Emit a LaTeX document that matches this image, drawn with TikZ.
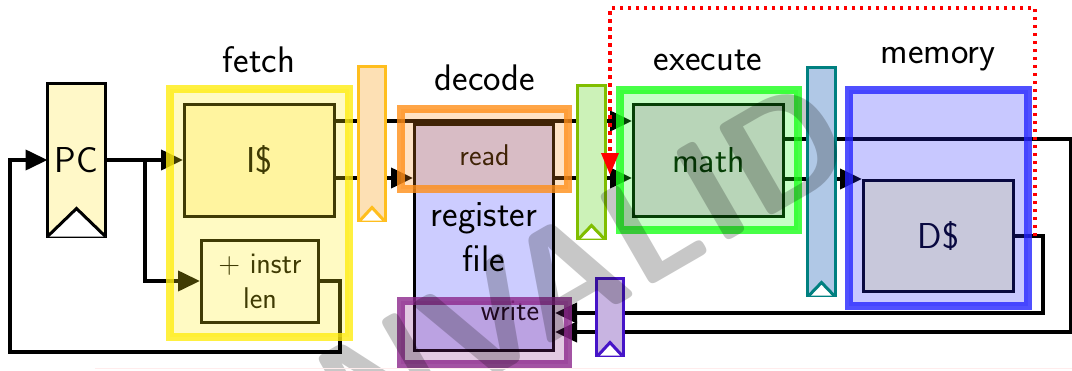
\documentclass[tikz,border=0pt]{standalone}
\usepackage{fontspec}
\usetikzlibrary{arrows.meta, calc}
\renewcommand{\familydefault}{\sfdefault}

\definecolor{pcfill}{RGB}{255,248,200}
\definecolor{icfill}{RGB}{255,248,208}
\definecolor{mathfill}{RGB}{237,200,237}
\definecolor{dcfill}{RGB}{255,255,208}
\definecolor{regfill}{RGB}{204,204,255}
\definecolor{stageyellow}{RGB}{255,236,16}
\definecolor{stageorange}{RGB}{255,142,24}
\definecolor{stagepurple}{RGB}{140,40,140}
\definecolor{stagegreen}{RGB}{26,255,26}
\definecolor{stageblue}{RGB}{36,36,255}
\definecolor{fdfill}{RGB}{253,224,180}
\definecolor{fddraw}{RGB}{255,190,30}
\definecolor{dxfill}{RGB}{204,242,184}
\definecolor{dxdraw}{RGB}{128,190,0}
\definecolor{xmfill}{RGB}{176,200,230}
\definecolor{xmdraw}{RGB}{0,128,128}
\definecolor{mwfill}{RGB}{200,180,225}
\definecolor{mwdraw}{RGB}{70,20,200}

\newcommand{\stagesize}{\fontsize{37}{40}\selectfont}
\newcommand{\boxsize}{\fontsize{36}{40}\selectfont}
\newcommand{\regsize}{\fontsize{37}{45}\selectfont}
\newcommand{\portsize}{\fontsize{30}{35}\selectfont}

\begin{document}
\begin{tikzpicture}[x=1pt, y=-1pt,
    blk/.style={draw, line width=3pt, inner sep=0pt},
    preg/.style={draw, line width=3pt, inner sep=0pt, outer sep=0pt},
    stage/.style={line width=8pt, inner sep=0pt, fill opacity=0.25, draw opacity=0.8},
    wire/.style={line width=4pt},
    arr/.style={wire, -{Triangle[length=22pt, width=20pt]}},
    fwd/.style={line width=3.5pt, red, dash pattern=on 3.5pt off 4.5pt, -{Triangle[length=22pt, width=17pt]}},
    lbl/.style={anchor=base, font=\stagesize},
]
\useasboundingbox (0,0) rectangle (1072,370);

% units
\node[preg, fill=pcfill, minimum width=58pt, minimum height=153pt, font=\boxsize] (pc) at (76.5,160) {PC};
\node[blk, fill=icfill, minimum width=150pt, minimum height=112pt, font=\boxsize] (icache) at (259.5,160) {I\$};
\node[blk, fill=white, minimum width=117pt, minimum height=82pt, font=\portsize, align=center] (instr) at (260,281) {+ instr\\len};
\node[blk, fill=regfill, minimum width=139pt, minimum height=226pt] (regfile) at (484,237.5) {};
\node[font=\regsize, align=center] (regtext) at (484,237) {register\\file};
\node[lbl, font=\portsize] (readtext) at (484.5,165) {read};
\node[lbl, font=\portsize] (writetext) at (510,320) {write};
\node[blk, fill=mathfill, minimum width=150pt, minimum height=112pt, font=\boxsize] (math) at (708.5,160.5) {math};
\node[blk, fill=dcfill, minimum width=150pt, minimum height=111pt, font=\boxsize] (dcache) at (938.5,236) {D\$};

% bends and bus levels
\coordinate (split) at (145,160);
\coordinate (pcloop) at (340,352);
\coordinate (loopleft) at (10,352);
\coordinate (busA) at (0,121);
\coordinate (busB) at (0,178);
\coordinate (busC) at (0,139);
\coordinate (aluloop) at (1071,332);
\coordinate (memloop) at (1043,313);

% wires
\draw[arr] (pc.east) -- (icache.west);
\draw[arr] (split) |- (instr.west);
\draw[arr] (instr.east) -| (pcloop) -- (loopleft) |- (pc.west);
\draw[wire] (icache.east |- busA) -- (372,121);
\draw[wire] (icache.east |- busB) -- (372,178);
\draw[arr] (372,121) -- (math.west |- busA);
\draw[arr] (372,178) -- (regfile.west |- busB);
\draw[arr] (regfile.east |- busB) -- (math.west |- busB);
\draw[arr] (math.east |- busC) -| (aluloop) -- (regfile.east |- aluloop);
\draw[arr] (math.east |- dcache.north) -- (dcache.north west);
\draw[arr] (dcache.east) -| (memloop) -- (regfile.east |- memloop);

% stages
\node[stage, draw=stageyellow, fill=stageyellow, minimum width=179pt, minimum height=248pt] (fetch) at (259.5,213) {};
\node[stage, draw=stageorange, fill=stageorange, minimum width=167pt, minimum height=80pt] (readport) at (484.5,149) {};
\node[stage, draw=stagepurple, fill=stagepurple, minimum width=167pt, minimum height=63pt] (writeport) at (484.5,332.5) {};
\node[stage, draw=stagegreen, fill=stagegreen, minimum width=178pt, minimum height=140pt] (execute) at (709,160) {};
\node[stage, draw=stageblue, fill=stageblue, minimum width=179pt, minimum height=216pt] (memory) at (938.5,198) {};

% pipeline registers
\node[preg, fill=fdfill, draw=fddraw, minimum width=27pt, minimum height=154pt] (fdreg) at (372,143.5) {};
\node[preg, fill=dxfill, draw=dxdraw, minimum width=28pt, minimum height=153pt] (dxreg) at (591.5,162) {};
\node[preg, fill=xmfill, draw=xmdraw, minimum width=28pt, minimum height=228pt] (xmreg) at (821.5,181.5) {};
\node[preg, fill=mwfill, draw=mwdraw, minimum width=27pt, minimum height=77pt] (mwreg) at (610,317) {};
\foreach \r/\c in {fdreg/fddraw, dxreg/dxdraw, xmreg/xmdraw, mwreg/mwdraw}
    \filldraw[fill=white, draw=\c, line width=3pt] ($(\r.south west)+(1.5,0)$) -- ($(\r.south)+(0,-13)$) -- ($(\r.south east)+(-1.5,0)$);
\filldraw[fill=white, line width=3pt] (pc.south west) -- ($(pc.south)+(0,-28)$) -- (pc.south east);

% forwarding path
\coordinate (fwdtop) at (1035,8);
\coordinate (fwdleft) at (610,8);
\coordinate (fwdend) at (610,175);
\draw[fwd] (dcache.east -| fwdtop) -- (fwdtop) -- (fwdleft) -- (fwdend);

% stage labels
\node[lbl] (fetchlabel) at (259,72) {fetch};
\node[lbl] (decodelabel) at (485,90) {decode};
\node[lbl] (executelabel) at (708,70) {execute};
\node[lbl] (memorylabel) at (938,63) {memory};

% stamp
\node[rotate=30, anchor=base, text=black, text opacity=0.22, font=\fontsize{150}{150}\selectfont\bfseries] (stamp) at (588,322) {INVALID};
\draw[line width=1pt, pink!30] (95,368.5) -- (1072,368.5);
\end{tikzpicture}
\end{document}
